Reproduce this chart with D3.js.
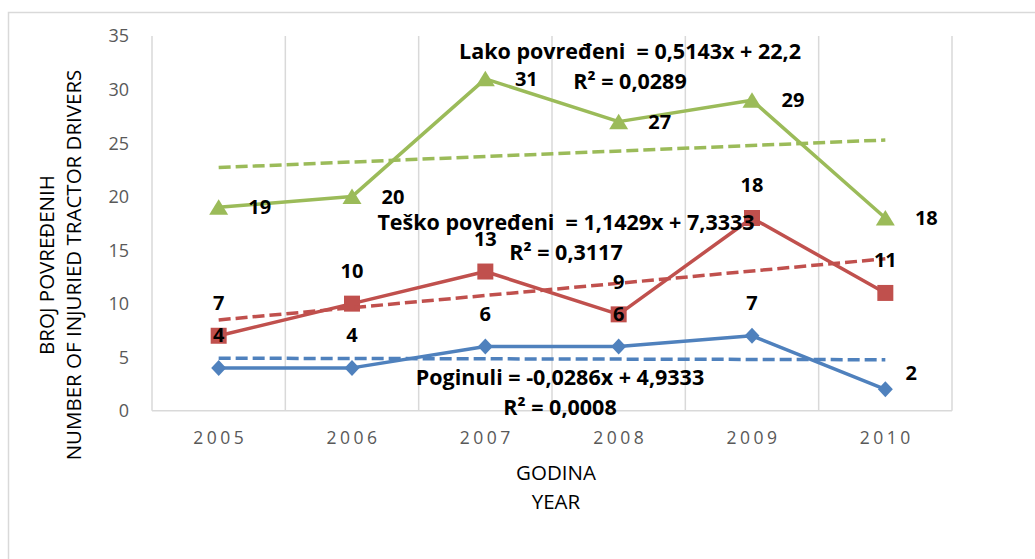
<!DOCTYPE html>
<html>
<head>
<meta charset="utf-8">
<script src="https://cdn.jsdelivr.net/npm/d3@7"></script>
<style>
  html, body { margin: 0; padding: 0; background: #fff; }
  svg text { font-family: "Open Sans", "Noto Sans", sans-serif; }
  .tick-label { fill: #595959; font-size: 18px; }
  .axis-title { fill: #000; font-size: 20.5px; }
  .data-label { fill: #000; font-size: 20px; font-weight: bold; }
  .trend-label { fill: #000; font-size: 21.5px; font-weight: bold; }
</style>
</head>
<body>
<div id="chart-container"></div>
<script>
// Categories (years) and values per series
const years = ["2005", "2006", "2007", "2008", "2009", "2010"];
const poginuli = [4, 4, 6, 6, 7, 2];
const teskoPovredeni = [7, 10, 13, 9, 18, 11];
const lakoPovredeni = [19, 20, 31, 27, 29, 18];
const yTicks = [0, 5, 10, 15, 20, 25, 30, 35];

// Linear trend lines as printed on the chart: y = slope * x + intercept, x = 1..6
const seriesNames = ["Poginuli", "Teško povređeni", "Lako povređeni"];
const trendSlopes = [-0.0286, 1.1429, 0.5143];
const trendIntercepts = [4.9333, 7.3333, 22.2];
const trendSlopeText = ["-0,0286", "1,1429", "0,5143"];
const trendInterceptText = ["4,9333", "7,3333", "22,2"];
const rSquaredText = ["0,0008", "0,3117", "0,0289"];

document.addEventListener('DOMContentLoaded', drawChart());

function drawChart() {
    const svgWidth = 1035;
    const svgHeight = 559;

    const svg = d3.select("#chart-container").append("svg")
        .attr("width", svgWidth)
        .attr("height", svgHeight);

    // Outer chart border (runs off the right / bottom of the picture)
    svg.append("rect")
        .attr("x", 8.5)
        .attr("y", 12.5)
        .attr("width", 1100)
        .attr("height", 700)
        .attr("fill", "none")
        .attr("stroke", "#d9d9d9")
        .attr("stroke-width", 1.5);

    const plot = { left: 152, right: 952, top: 36, bottom: 410.7 };

    const x = d3.scaleBand()
        .domain(years)
        .range([plot.left, plot.right])
        .padding(0);
    const cx = d => x(d) + x.bandwidth() / 2;

    const y = d3.scaleLinear()
        .domain([0, 35])
        .range([plot.bottom, plot.top]);

    // Vertical gridlines at the category boundaries
    const edges = years.map(d => x(d)).concat([plot.right]);
    svg.append("g").selectAll("line")
        .data(edges)
        .join("line")
        .attr("x1", d => d).attr("x2", d => d)
        .attr("y1", plot.top).attr("y2", plot.bottom)
        .attr("stroke", "#d9d9d9")
        .attr("stroke-width", 1.5);

    // Horizontal axis line
    svg.append("line")
        .attr("x1", plot.left).attr("x2", plot.right)
        .attr("y1", y(0)).attr("y2", y(0))
        .attr("stroke", "#d9d9d9")
        .attr("stroke-width", 1.5);

    // Y tick labels
    svg.append("g").selectAll("text")
        .data(yTicks)
        .join("text")
        .attr("class", "tick-label")
        .attr("x", 129)
        .attr("y", d => y(d))
        .attr("dy", "0.36em")
        .attr("text-anchor", "end")
        .text(d => d);

    // X tick labels (spaced out like the original)
    svg.append("g").selectAll("text")
        .data(years)
        .join("text")
        .attr("class", "tick-label")
        .attr("x", d => cx(d) + 1.5)
        .attr("y", 438)
        .attr("dy", "0.36em")
        .attr("text-anchor", "middle")
        .style("font-size", "17.5px")
        .style("letter-spacing", "3.5px")
        .text(d => d);

    // Axis titles
    const yTitle = svg.append("text")
        .attr("class", "axis-title")
        .attr("transform", "translate(60,265) rotate(-90)")
        .attr("text-anchor", "middle");
    yTitle.append("tspan").attr("x", 0).attr("dy", "-0.3em").text("BROJ POVREĐENIH");
    yTitle.append("tspan").attr("x", 0).attr("dy", "1.3em").text("NUMBER OF INJURIED TRACTOR DRIVERS");

    const xTitle = svg.append("text")
        .attr("class", "axis-title")
        .attr("text-anchor", "middle");
    xTitle.append("tspan").attr("x", 556).attr("y", 473).attr("dy", "0.36em").text("GODINA");
    xTitle.append("tspan").attr("x", 556).attr("y", 502).attr("dy", "0.36em").text("YEAR");

    const colors = ["#4f81bd", "#c0504d", "#9bbb59"];
    const values = [poginuli, teskoPovredeni, lakoPovredeni];

    // Marker shapes: diamond, square, triangle
    const markerPath = [
        "M0,-8L7.5,0L0,8L-7.5,0Z",
        "M-8,-8L8,-8L8,8L-8,8Z",
        "M0,-8L9.5,7.5L-9.5,7.5Z"
    ];

    const line = d3.line()
        .x(d => cx(d.year))
        .y(d => y(d.value));

    values.forEach((vals, s) => {
        const pts = years.map((yr, i) => ({ year: yr, value: vals[i] }));
        svg.append("path")
            .datum(pts)
            .attr("d", line)
            .attr("fill", "none")
            .attr("stroke", colors[s])
            .attr("stroke-width", 3.5)
            .attr("stroke-linejoin", "round");
        svg.append("g").selectAll("path")
            .data(pts)
            .join("path")
            .attr("transform", d => `translate(${cx(d.year)},${y(d.value)})`)
            .attr("d", markerPath[s])
            .attr("fill", colors[s]);
    });

    // Dashed linear trend lines, from first to last category
    values.forEach((vals, s) => {
        const trend = [years[0], years[years.length - 1]].map(yr => ({
            year: yr,
            value: trendSlopes[s] * (years.indexOf(yr) + 1) + trendIntercepts[s]
        }));
        svg.append("path")
            .datum(trend)
            .attr("d", line)
            .attr("fill", "none")
            .attr("stroke", colors[s])
            .attr("stroke-width", 3.5)
            .attr("stroke-dasharray", "12,5");
    });

    // Data labels: blue and red above, green to the right, blue last point up-right
    function labelOffset(s, i) {
        if (s === 2) return [41, 0];
        if (s === 0 && i === years.length - 1) return [26, -16];
        return [0, -33];
    }
    values.forEach((vals, s) => {
        svg.append("g").selectAll("text")
            .data(vals)
            .join("text")
            .attr("class", "data-label")
            .attr("x", (d, i) => cx(years[i]) + labelOffset(s, i)[0])
            .attr("y", (d, i) => y(d) + labelOffset(s, i)[1])
            .attr("dy", "0.36em")
            .attr("text-anchor", "middle")
            .text(d => d);
    });

    // Trend line equations with R²
    const trendLabelPos = [
        { x: 560, y: 377 },
        { x: 566, y: 222 },
        { x: 630, y: 51 }
    ];
    seriesNames.forEach((name, s) => {
        const gap = s === 0 ? " " : "  ";
        const t = svg.append("text")
            .attr("class", "trend-label")
            .attr("text-anchor", "middle")
            .attr("xml:space", "preserve")
            .style("white-space", "pre");
        t.append("tspan")
            .attr("x", trendLabelPos[s].x)
            .attr("y", trendLabelPos[s].y)
            .attr("dy", "0.36em")
            .text(`${name}${gap}= ${trendSlopeText[s]}x + ${trendInterceptText[s]}`);
        t.append("tspan")
            .attr("x", trendLabelPos[s].x)
            .attr("y", trendLabelPos[s].y + 30)
            .attr("dy", "0.36em")
            .text(`R² = ${rSquaredText[s]}`);
    });
}
</script>
</body>
</html>
